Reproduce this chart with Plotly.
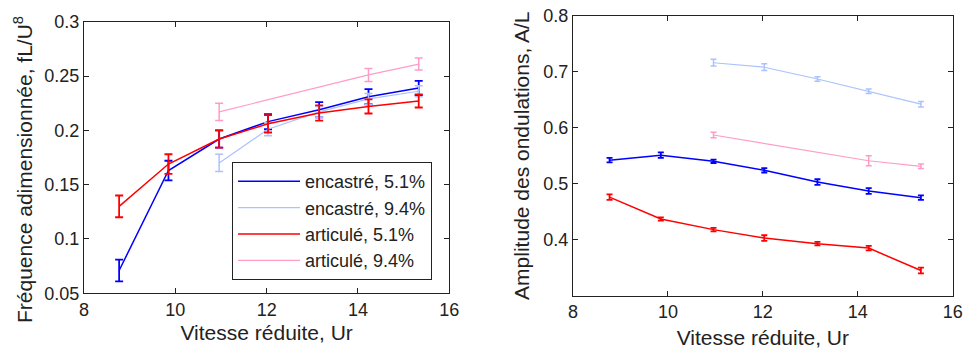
import plotly.graph_objects as go

# Reduced velocity (x)
ur = [8.77, 9.85, 10.96, 12.03, 13.15, 14.23, 15.33]
ur_94 = [10.96, 12.03, 13.15, 14.23, 15.33]
ur_art94 = [10.96, 14.23, 15.33]

# Left: dimensionless frequency fL/U
freq_enc51 = [0.071, 0.163, 0.192, 0.208, 0.219, 0.231, 0.239]
freq_enc51_err = [0.010, 0.009, 0.008, 0.007, 0.007, 0.007, 0.0066]
freq_enc94 = [0.170, 0.201, 0.217, 0.229, 0.236]
freq_enc94_err = [0.008, 0.006, 0.005, 0.005, 0.005]
freq_art51 = [0.130, 0.169, 0.192, 0.206, 0.216, 0.222, 0.227]
freq_art51_err = [0.010, 0.009, 0.008, 0.008, 0.007, 0.0065, 0.006]
freq_art94 = [0.217, 0.251, 0.261]
freq_art94_err = [0.008, 0.006, 0.0055]

# Right: amplitude A/L
amp_enc51 = [0.542, 0.551, 0.540, 0.524, 0.503, 0.487, 0.475]
amp_enc51_err = [0.004, 0.005, 0.003, 0.004, 0.005, 0.005, 0.004]
amp_enc94 = [0.716, 0.708, 0.687, 0.665, 0.642]
amp_enc94_err = [0.006, 0.006, 0.004, 0.004, 0.005]
amp_art51 = [0.476, 0.437, 0.418, 0.403, 0.393, 0.385, 0.345]
amp_art51_err = [0.005, 0.003, 0.003, 0.005, 0.003, 0.004, 0.005]
amp_art94 = [0.587, 0.541, 0.531]
amp_art94_err = [0.005, 0.009, 0.004]

names = ["encastré, 5.1%", "encastré, 9.4%", "articulé, 5.1%", "articulé, 9.4%"]
colors = ["#0000FF", "#ABC2FF", "#FF0000", "#FF9CC6"]
widths = [1.5, 1.2, 1.5, 1.2]

left = [(ur, freq_enc51, freq_enc51_err), (ur_94, freq_enc94, freq_enc94_err),
        (ur, freq_art51, freq_art51_err), (ur_art94, freq_art94, freq_art94_err)]
right = [(ur, amp_enc51, amp_enc51_err), (ur_94, amp_enc94, amp_enc94_err),
         (ur, amp_art51, amp_art51_err), (ur_art94, amp_art94, amp_art94_err)]

fig = go.Figure()
for i, (x, y, e) in enumerate(left):
    fig.add_trace(go.Scatter(x=x, y=y, mode="lines", name=names[i],
                             line=dict(color=colors[i], width=widths[i]),
                             error_y=dict(type="data", array=e, color=colors[i],
                                          thickness=widths[i] + 0.3, width=4),
                             xaxis="x", yaxis="y", showlegend=True))
for i, (x, y, e) in enumerate(right):
    fig.add_trace(go.Scatter(x=x, y=y, mode="lines", name=names[i],
                             line=dict(color=colors[i], width=widths[i]),
                             error_y=dict(type="data", array=e, color=colors[i],
                                          thickness=widths[i] + 0.3, width=3),
                             xaxis="x2", yaxis="y2", showlegend=False))

font = dict(family="Liberation Sans, Arial, sans-serif", size=18, color="#222222")
tfont = dict(family="Liberation Sans, Arial, sans-serif", size=21, color="#222222")
axis_common = dict(showline=True, linecolor="#222222", linewidth=1, mirror="ticks",
                   ticks="inside", ticklen=5, tickcolor="#222222", showgrid=False,
                   zeroline=False, tickfont=font, automargin=False)

fig.update_layout(
    template="none",
    width=964, height=351,
    margin=dict(l=0, r=0, t=0, b=0),
    paper_bgcolor="white", plot_bgcolor="white",
    font=font,
    xaxis=dict(domain=[0.0871, 0.4661], range=[8, 16], tickvals=[8, 10, 12, 14, 16],
               title=dict(text="Vitesse réduite, Ur", font=tfont, standoff=6), anchor="y",
               **axis_common),
    yaxis=dict(domain=[0.1644, 0.9382], range=[0.05, 0.3],
               tickvals=[0.05, 0.1, 0.15, 0.2, 0.25, 0.3],
               ticktext=["0.05", "0.1", "0.15", "0.2", "0.25", "0.3"],
               anchor="x", **axis_common),
    xaxis2=dict(domain=[0.5944, 0.9883], range=[8, 16], tickvals=[8, 10, 12, 14, 16],
                title=dict(text="Vitesse réduite, Ur", font=tfont, standoff=8), anchor="y2",
                **axis_common),
    yaxis2=dict(domain=[0.1575, 0.9553], range=[0.3, 0.8],
                tickvals=[0.4, 0.5, 0.6, 0.7, 0.8],
                title=dict(text="Amplitude des ondulations, A/L", font=tfont, standoff=8),
                anchor="x2", **axis_common),
    legend=dict(x=0.2407, y=1 - 162 / 351, xanchor="left", yanchor="top",
                bordercolor="#222222", borderwidth=1, bgcolor="white",
                font=font, tracegroupgap=0, itemwidth=62),
    showlegend=True,
    annotations=[dict(text="Fréquence adimensionnée, fL/U<sup>8</sup>", textangle=-90,
                      xref="paper", yref="paper", x=23 / 964, y=1 - 170 / 351,
                      xanchor="center", yanchor="middle", showarrow=False, font=tfont)],
)

fig.write_html("out.html", config={"displayModeBar": False},
               post_script="document.body.style.margin='0';document.body.style.overflow='hidden';")
